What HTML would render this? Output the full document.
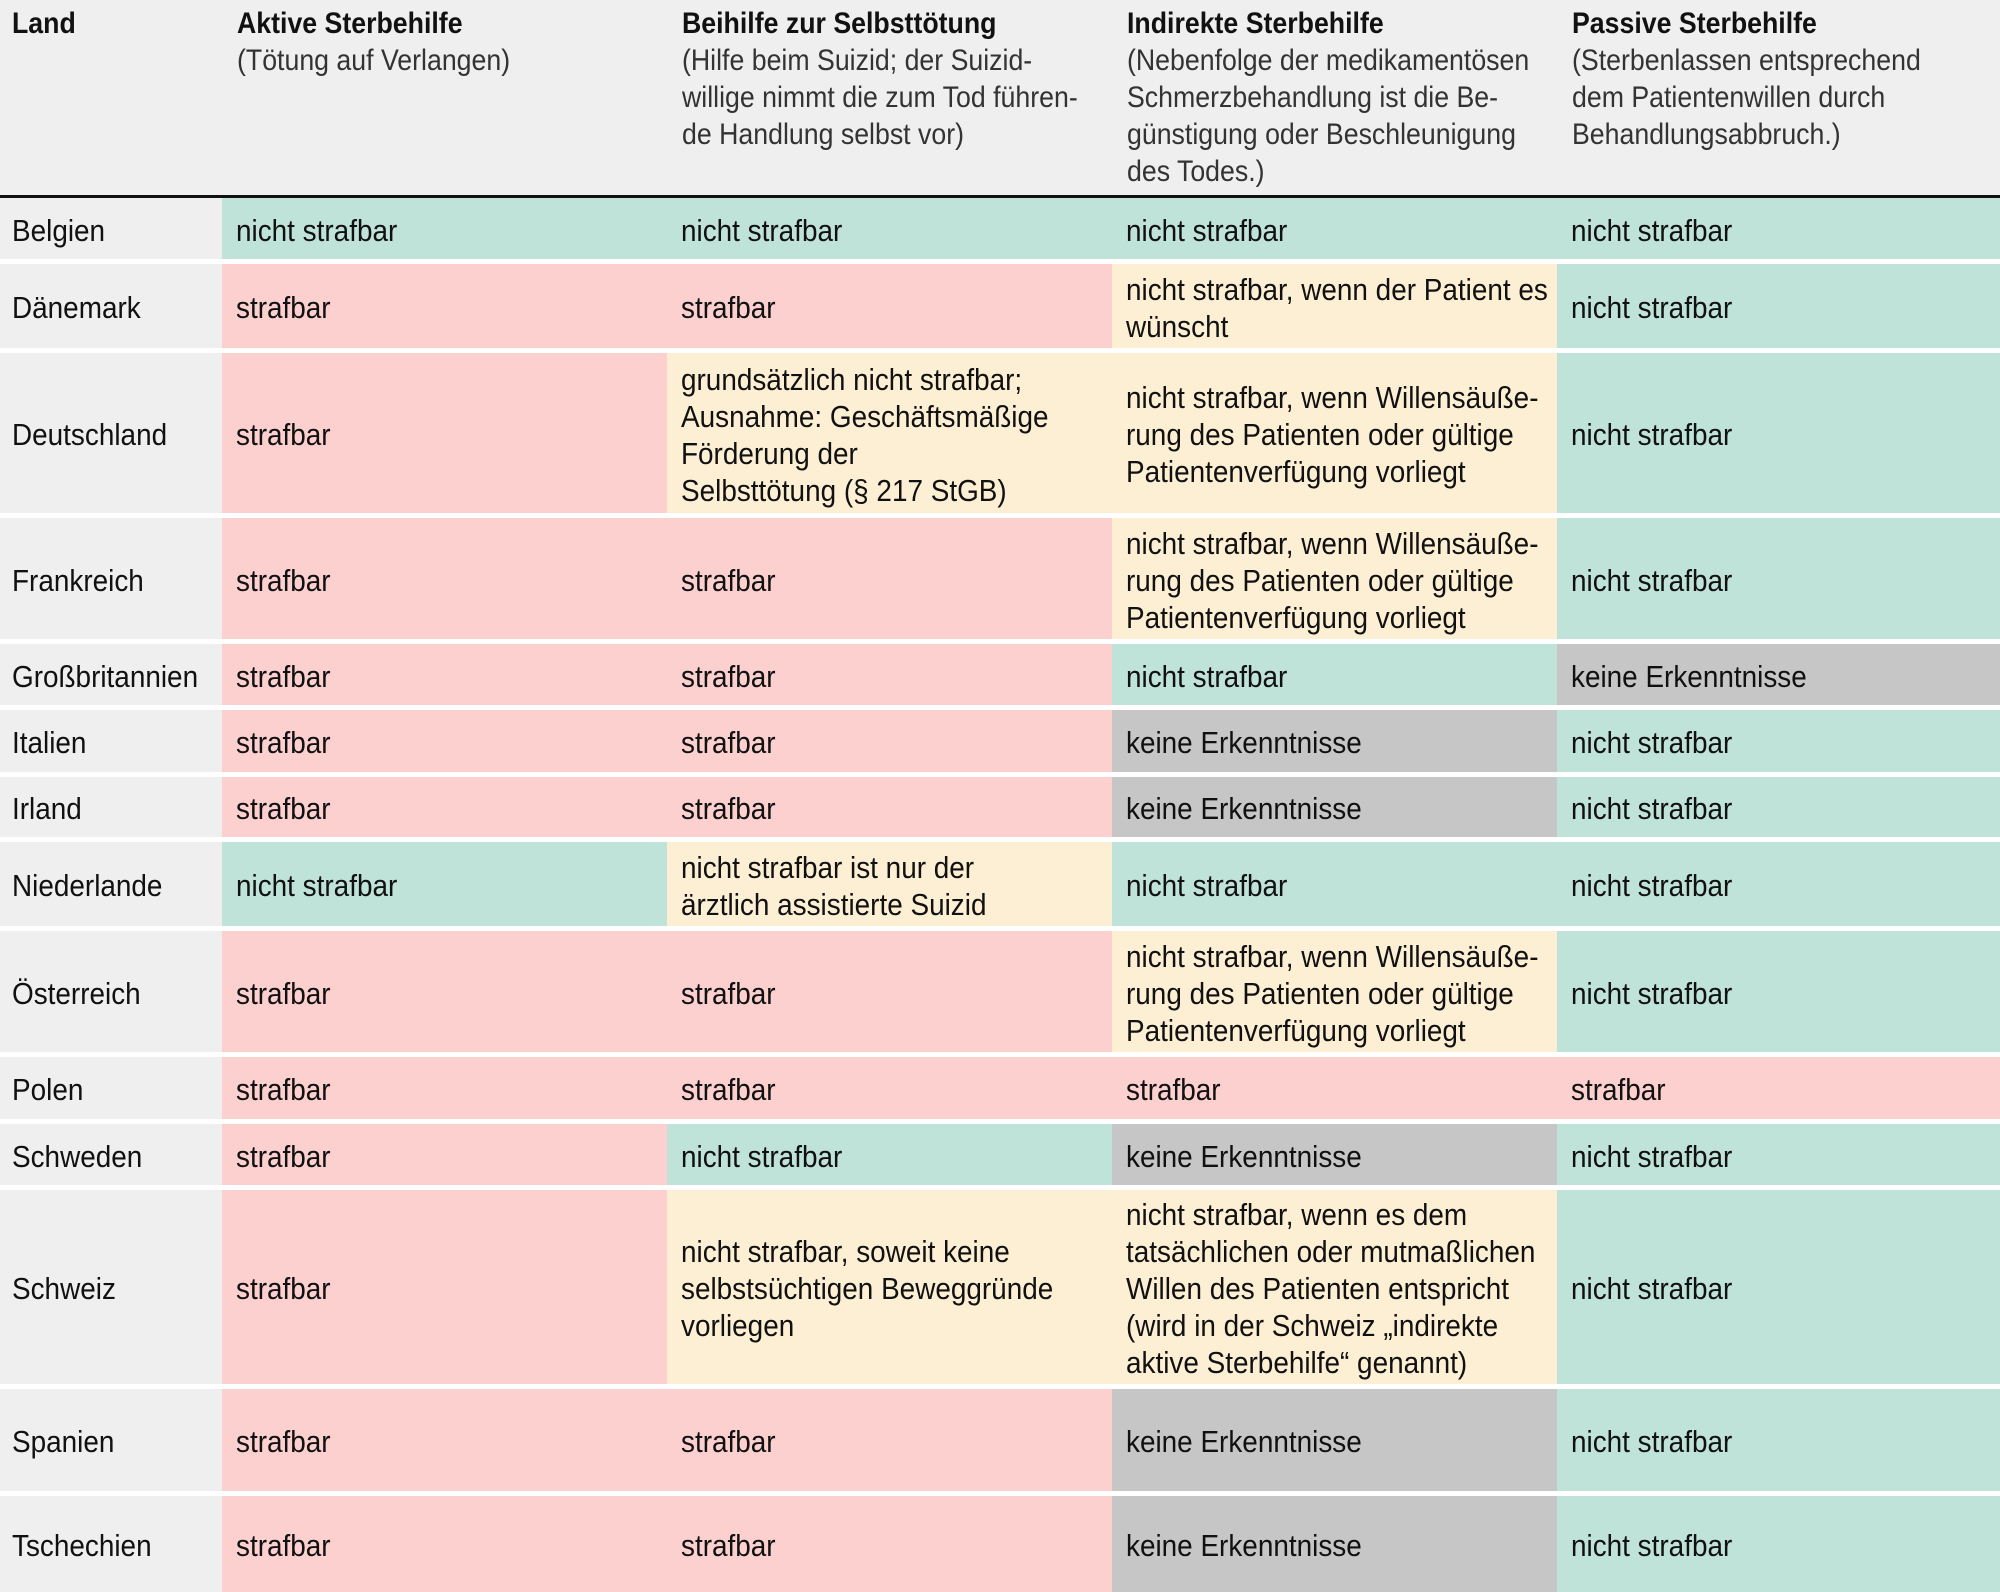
<!DOCTYPE html>
<html><head><meta charset="utf-8">
<style>
html,body{margin:0;padding:0;background:#fff;}
body{width:2000px;height:1592px;position:relative;overflow:hidden;font-family:"Liberation Sans",sans-serif;font-size:30px;color:#111;}
.hdr{position:absolute;left:0;top:0;width:2000px;height:195px;background:#efefef;}
.hline{position:absolute;left:0;top:195px;width:2000px;height:3px;background:#111;}
.h{position:absolute;top:5px;line-height:37px;white-space:nowrap;transform:scaleX(0.89);transform-origin:0 0;}
.h b{display:block;font-weight:bold;}
.h span{color:#333;}
.c{position:absolute;display:flex;align-items:center;box-sizing:border-box;padding-left:14px;padding-top:3px;line-height:37px;white-space:nowrap;font-size:31px;}
.c>div{transform:scaleX(0.9);transform-origin:0 50%;}
.g{background:#bfe3d8}.r{background:#fdd0d0}.y{background:#fdefd4}.k{background:#c6c6c6}.l{background:#efefef;padding-left:12px}
</style></head><body>
<div class="hdr"></div>
<div class="hline"></div>
<div class="h" style="left:12px"><b>Land</b></div>
<div class="h" style="left:237px"><b>Aktive Sterbehilfe</b><span>(Tötung auf Verlangen)</span></div>
<div class="h" style="left:682px"><b>Beihilfe zur Selbsttötung</b><span>(Hilfe beim Suizid; der Suizid-<br>willige nimmt die zum Tod führen-<br>de Handlung selbst vor)</span></div>
<div class="h" style="left:1127px"><b>Indirekte Sterbehilfe</b><span>(Nebenfolge der medikamentösen<br>Schmerzbehandlung ist die Be-<br>günstigung oder Beschleunigung<br>des Todes.)</span></div>
<div class="h" style="left:1572px"><b>Passive Sterbehilfe</b><span>(Sterbenlassen entsprechend<br>dem Patientenwillen durch<br>Behandlungsabbruch.)</span></div>
<div id="rows"></div>
<script>
const rows=[
[198,259,"Belgien",["g","nicht strafbar"],["g","nicht strafbar"],["g","nicht strafbar"],["g","nicht strafbar"]],
[264,348,"Dänemark",["r","strafbar"],["r","strafbar"],["y","nicht strafbar, wenn der Patient es<br>wünscht"],["g","nicht strafbar"]],
[353,513,"Deutschland",["r","strafbar"],["y","grundsätzlich nicht strafbar;<br>Ausnahme: Geschäftsmäßige<br>Förderung der<br>Selbsttötung (§ 217 StGB)"],["y","nicht strafbar, wenn Willensäuße-<br>rung des Patienten oder gültige<br>Patientenverfügung vorliegt"],["g","nicht strafbar"]],
[518,639,"Frankreich",["r","strafbar"],["r","strafbar"],["y","nicht strafbar, wenn Willensäuße-<br>rung des Patienten oder gültige<br>Patientenverfügung vorliegt"],["g","nicht strafbar"]],
[644,705,"Großbritannien",["r","strafbar"],["r","strafbar"],["g","nicht strafbar"],["k","keine Erkenntnisse"]],
[710,772,"Italien",["r","strafbar"],["r","strafbar"],["k","keine Erkenntnisse"],["g","nicht strafbar"]],
[777,837,"Irland",["r","strafbar"],["r","strafbar"],["k","keine Erkenntnisse"],["g","nicht strafbar"]],
[842,926,"Niederlande",["g","nicht strafbar"],["y","nicht strafbar ist nur der<br>ärztlich assistierte Suizid"],["g","nicht strafbar"],["g","nicht strafbar"]],
[931,1052,"Österreich",["r","strafbar"],["r","strafbar"],["y","nicht strafbar, wenn Willensäuße-<br>rung des Patienten oder gültige<br>Patientenverfügung vorliegt"],["g","nicht strafbar"]],
[1057,1119,"Polen",["r","strafbar"],["r","strafbar"],["r","strafbar"],["r","strafbar"]],
[1124,1185,"Schweden",["r","strafbar"],["g","nicht strafbar"],["k","keine Erkenntnisse"],["g","nicht strafbar"]],
[1190,1384,"Schweiz",["r","strafbar"],["y","nicht strafbar, soweit keine<br>selbstsüchtigen Beweggründe<br>vorliegen"],["y","nicht strafbar, wenn es dem<br>tatsächlichen oder mutmaßlichen<br>Willen des Patienten entspricht<br>(wird in der Schweiz „indirekte<br>aktive Sterbehilfe“ genannt)"],["g","nicht strafbar"]],
[1389,1491,"Spanien",["r","strafbar"],["r","strafbar"],["k","keine Erkenntnisse"],["g","nicht strafbar"]],
[1496,1592,"Tschechien",["r","strafbar"],["r","strafbar"],["k","keine Erkenntnisse"],["g","nicht strafbar"]]
];
const xs=[0,222,667,1112,1557,2000];
let h="";
for(const r of rows){
 const t=r[0],hh=r[1]-r[0];
 h+=`<div class="c l" style="left:0;top:${t}px;width:222px;height:${hh}px"><div>${r[2]}</div></div>`;
 for(let i=0;i<4;i++){
  h+=`<div class="c ${r[3+i][0]}" style="left:${xs[i+1]}px;top:${t}px;width:${xs[i+2]-xs[i+1]}px;height:${hh}px"><div>${r[3+i][1]}</div></div>`;
 }
}
document.getElementById("rows").innerHTML=h;
</script>
</body></html>
